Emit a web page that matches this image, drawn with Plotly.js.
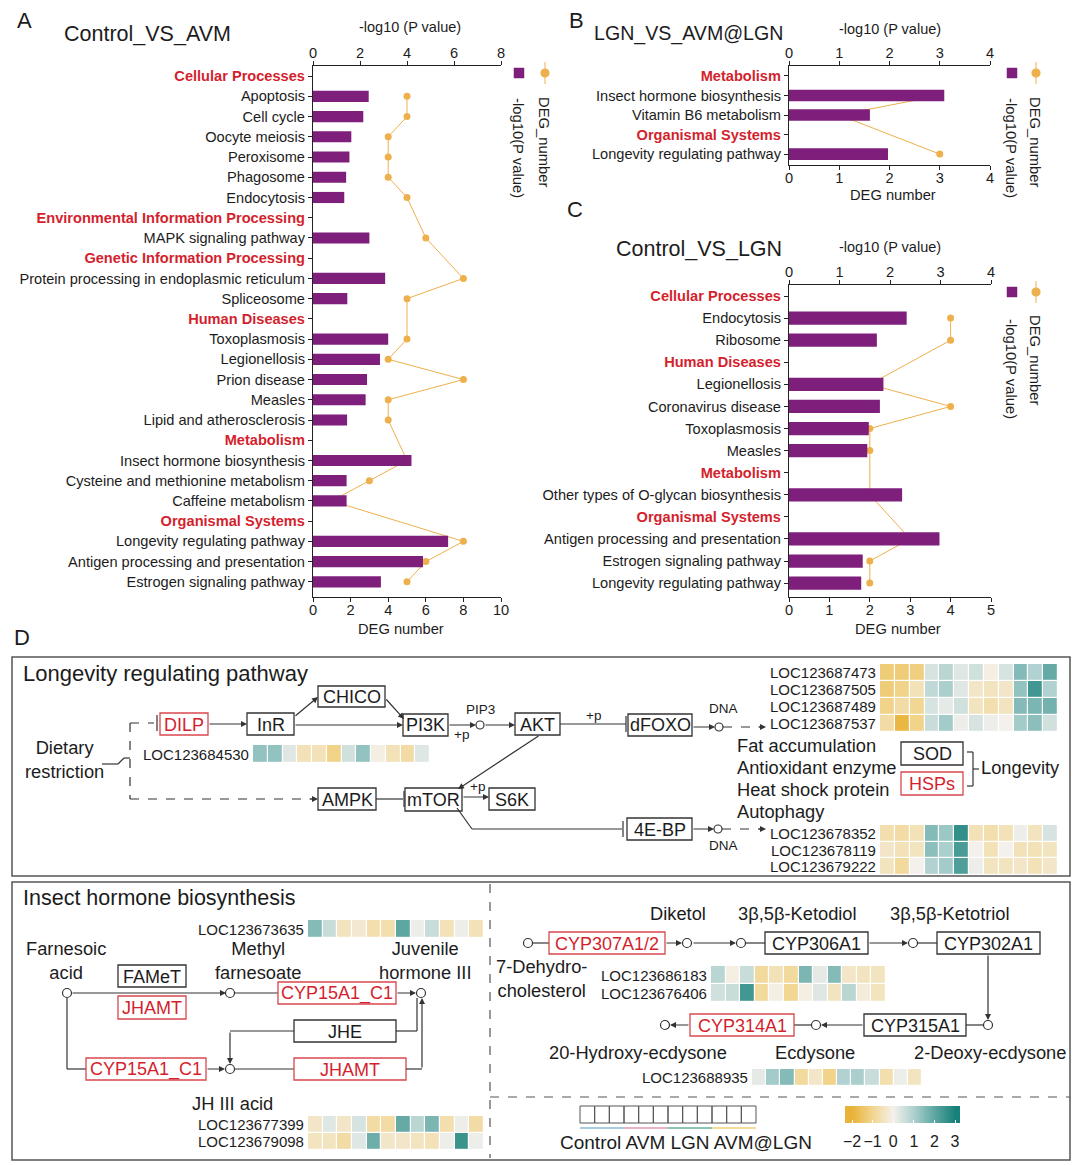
<!DOCTYPE html>
<html>
<head>
<meta charset="utf-8">
<script src="https://cdn.plot.ly/plotly-3.0.1.min.js"></script>
<style>html,body{margin:0;padding:0;background:#fff;}#plot{width:1080px;height:1165px;}</style>
</head>
<body>
<div id="plot"></div>
<script>
// ---------------- DATA ----------------
const headerCats = ['Cellular Processes','Environmental Information Processing','Genetic Information Processing','Human Diseases','Metabolism','Organismal Systems'];

const catsA = ['Cellular Processes','Apoptosis','Cell cycle','Oocyte meiosis','Peroxisome','Phagosome','Endocytosis',
  'Environmental Information Processing','MAPK signaling pathway','Genetic Information Processing',
  'Protein processing in endoplasmic reticulum','Spliceosome','Human Diseases','Toxoplasmosis','Legionellosis',
  'Prion disease','Measles','Lipid and atherosclerosis','Metabolism','Insect hormone biosynthesis',
  'Cysteine and methionine metabolism','Caffeine metabolism','Organismal Systems','Longevity regulating pathway',
  'Antigen processing and presentation','Estrogen signaling pathway'];
const logpA = [null,2.37,2.14,1.63,1.55,1.41,1.33,null,2.40,null,3.07,1.46,null,3.20,2.85,2.30,2.24,1.45,null,4.19,1.43,1.43,null,5.75,4.68,2.89];
const degA  = [null,5,5,4,4,4,5,null,6,null,8,5,null,5,4,8,4,4,null,5,3,1,null,8,6,5];

const catsB = ['Metabolism','Insect hormone biosynthesis','Vitamin B6 metabolism','Organismal Systems','Longevity regulating pathway'];
const logpB = [null,3.09,1.61,null,1.97];
const degB  = [null,3,1,null,3];

const catsC = ['Cellular Processes','Endocytosis','Ribosome','Human Diseases','Legionellosis','Coronavirus disease',
  'Toxoplasmosis','Measles','Metabolism','Other types of O-glycan biosynthesis','Organismal Systems',
  'Antigen processing and presentation','Estrogen signaling pathway','Longevity regulating pathway'];
const logpC = [null,2.33,1.74,null,1.87,1.80,1.58,1.55,null,2.24,null,2.98,1.46,1.43];
const degC  = [null,4,4,null,2,4,2,2,null,2,null,3,2,2];

// heatmap samples (Control x3, AVM x3, LGN x3, AVM@LGN x3)
const samples = ['C1','C2','C3','A1','A2','A3','L1','L2','L3','AL1','AL2','AL3'];

const genesFoxo = ['LOC123687473','LOC123687505','LOC123687489','LOC123687537'];
const zFoxo = [
  [-1.3,-1.3,-1.2, 0.4, 0.8, 0.3, 0.5,-0.1, 0.4, 1.5, 0.9, 1.9],
  [-1.3,-1.1,-0.6, 0.7, 1.0, 0.3,-0.4,-0.5,-0.4, 1.3, 2.4, 0.9],
  [-1.1,-0.8,-1.0, 0.4, 0.2, 0.5,-0.5,-0.7,-0.5, 1.5, 1.6, 1.7],
  [-0.8,-1.9,-1.1, 0.6, 1.1, 0.1, 0.4, 0.1, 0.0, 1.1, 1.4, 0.5]];
const genes4EBP = ['LOC123678352','LOC123678119','LOC123679222'];
const z4EBP = [
  [-0.7,-0.8,-0.6, 1.5, 1.2, 2.6,-0.6,-0.7,-0.6, 0.1,-0.5, 0.4],
  [-0.4,-0.6,-0.5, 1.4, 1.0, 2.3, 0.0,-0.6, 0.0,-0.6,-0.6,-0.5],
  [-0.5,-0.9, 0.0, 0.9, 1.1, 2.2, 0.1,-0.5,-0.5,-0.4,-0.6,-0.4]];
const genesDilp = ['LOC123684530'];
const zDilp = [[1.3, 1.3, 0.3,-0.6,-0.6,-1.1, 0.5, 1.3,-0.1,-0.6,-0.8, 0.3]];
const genesJH1 = ['LOC123673635'];
const zJH1 = [[1.5, 0.6,-0.5,-0.3,-0.7,-0.7, 2.0, 0.1, 0.6,-0.6, 0.1,-0.6]];
const genesJH2 = ['LOC123677399','LOC123679098'];
const zJH2 = [
  [-0.4, 0.3,-0.4, 0.4,-0.8,-0.8, 1.9, 0.8, 1.6,-0.7, 0.1,-0.8],
  [-0.5,-0.5,-0.8, 0.3, 1.8,-0.4,-0.4,-0.5,-0.6, 0.1, 2.5, 0.1]];
const genesEcd1 = ['LOC123686183','LOC123676406'];
const zEcd1 = [
  [0.8,-0.1, 0.6,-0.9,-0.6,-0.9, 1.6, 0.2, 1.5,-0.4,-0.5,-0.5],
  [0.5, 0.6, 2.4,-0.9,-0.1,-1.0,-0.1, 0.3,-0.5, 0.8,-0.2,-0.5]];
const genesEcd2 = ['LOC123688935'];
const zEcd2 = [[0.2, 1.1, 1.5,-0.9,-0.4,-1.1, 0.9, 1.0, 0.6,-0.7, 0.1,-0.5]];
const scaleVals = [-2,-1,0,1,2,3];
const scaleLabels = ['\u22122','\u22121','0','1','2','3'];
const groupNames = ['Control','AVM','LGN','AVM@LGN'];
const groupColors = ['#A9CCE0','#E8B4C2','#8CC6B3','#F2DC97'];

// ---------------- STYLE / HELPERS ----------------
const W = 1080, H = 1165;
const PX = x => x / W, PY = y => 1 - y / H;
const PURPLE = '#7E1F7C', ORANGE = '#EEB04C', RED = '#D41F2E', REDBOX = '#D9474F', INK = '#1c1c1c', LN = '#333';
const FONT = 'Liberation Sans, Arial, sans-serif';
const CS = [[0,'#E9B33A'],[0.2,'#F2D693'],[0.4,'#F4F1EC'],[0.6,'#AACFCD'],[0.8,'#5EA6A2'],[1,'#17807A']];
const BF = 18;   // box label size
const DF = 18.3; // diagram text size

const shapes = [], annotations = [];
function txt(x, y, text, size, color, xa, extra) {
  annotations.push(Object.assign({xref:'paper', yref:'paper', x:PX(x), y:PY(y), text:text, showarrow:false,
    xanchor:xa||'center', yanchor:'middle', font:{size:size, color:color||INK, family:FONT}}, extra||{}));
}
function seg(x0,y0,x1,y1,dash,color,w) {
  shapes.push({type:'line', xref:'paper', yref:'paper', x0:PX(x0), y0:PY(y0), x1:PX(x1), y1:PY(y1),
    line:{color:color||LN, width:w||1.2, dash:dash||'solid'}});
}
function rectS(x0,y0,x1,y1,color,fill,w,dash) {
  shapes.push({type:'rect', xref:'paper', yref:'paper', x0:PX(x0), x1:PX(x1), y0:PY(y1), y1:PY(y0),
    line:{color:color, width:w||1.3, dash:dash||'solid'}, fillcolor:fill||'rgba(0,0,0,0)'});
}
function box(x0,y0,x1,y1,label,red) {
  rectS(x0,y0,x1,y1, red?REDBOX:LN, '#fff', 1.3);
  txt((x0+x1)/2,(y0+y1)/2+0.5,label,BF,red?RED:INK);
}
function circ(x,y,r,fill,color) {
  r = r||4;
  shapes.push({type:'circle', xref:'paper', yref:'paper', x0:PX(x-r), x1:PX(x+r), y0:PY(y+r), y1:PY(y-r),
    line:{color:color||LN, width:1.2}, fillcolor:fill||'#fff'});
}
function arr(x0,y0,x1,y1) {
  annotations.push({xref:'paper', yref:'paper', x:PX(x1), y:PY(y1), ax:x0-x1, ay:y0-y1, axref:'pixel', ayref:'pixel',
    text:'', showarrow:true, arrowhead:2, arrowsize:1, arrowwidth:1.2, arrowcolor:LN, standoff:0, startstandoff:0});
}
function bar(x,y0,y1){ seg(x,y0,x,y1); }
const fmt = c => headerCats.includes(c) ? '<b><span style="color:'+RED+'">'+c+'</span></b>' : c;
const idx = a => a.map((_,i)=>i);

// ---------------- TRACES: panels A, B, C ----------------
const data = [];
function panel(cats, logp, deg, xb, xt, ya, bw) {
  data.push({type:'bar', orientation:'h', x:logp, y:idx(cats), xaxis:xt, yaxis:ya, width:bw,
    marker:{color:PURPLE}, hoverinfo:'skip'});
  data.push({type:'scatter', mode:'lines+markers', x:deg, y:idx(cats), xaxis:xb, yaxis:ya, connectgaps:true,
    line:{color:ORANGE, width:1}, marker:{color:ORANGE, size:7}, hoverinfo:'skip'});
}
panel(catsA, logpA, degA, 'x', 'x2', 'y', 0.55);
panel(catsB, logpB, degB, 'x3', 'x4', 'y2', 0.6);
panel(catsC, logpC, degC, 'x5', 'x6', 'y3', 0.6);

// ---------------- TRACES: heatmaps ----------------
const hmAxes = {};
function hm(genes, z, xa, ya, x0, x1, y0, y1) {
  data.push({type:'heatmap', x:samples, y:genes, z:z, xaxis:xa, yaxis:ya, colorscale:CS, zmin:-2, zmax:3,
    showscale:false, xgap:1.2, ygap:1.2, hoverinfo:'skip'});
  const xn = 'xaxis' + xa.slice(1), yn = 'yaxis' + ya.slice(1);
  hmAxes[xn] = {domain:[PX(x0),PX(x1)], anchor:ya, visible:false, fixedrange:true};
  hmAxes[yn] = {domain:[PY(y1),PY(y0)], anchor:xa, type:'category', autorange:'reversed', visible:false, fixedrange:true};
  // gene labels to the left of the rows
  const h = (y1 - y0) / genes.length;
  genes.forEach((g, i) => txt(x0 - 2, y0 + (i + 0.5) * h, g, 15, INK, 'right'));
}
hm(genesFoxo, zFoxo, 'x7', 'y4', 880, 1058, 664, 732);
hm(genes4EBP, z4EBP, 'x8', 'y5', 880, 1058, 825, 875);
hm(genesDilp, zDilp, 'x9', 'y6', 253, 430, 745, 763);
hm(genesJH1, zJH1, 'x10', 'y7', 308, 484, 920, 938);
hm(genesJH2, zJH2, 'x11', 'y8', 308, 484, 1116, 1150);
hm(genesEcd1, zEcd1, 'x12', 'y9', 711, 886, 966, 1002);
hm(genesEcd2, zEcd2, 'x13', 'y10', 752, 922, 1069, 1086);
// colour key
data.push({type:'heatmap', x:[-2.34].concat(scaleVals, [3.24]), y:['k'], z:[[-2].concat(scaleVals,[3])],
  xaxis:'x14', yaxis:'y11', colorscale:CS, zmin:-2, zmax:3, zsmooth:'best', showscale:false, hoverinfo:'skip'});

// ---------------- AXES ----------------
const tickF = {size:14.6, color:INK, family:FONT};
function xAx(x0,x1,range,dtick,anchor,side,overlay) {
  const a = {range:range, dtick:dtick, tick0:0, anchor:anchor, side:side, showline:true, linecolor:'#222', linewidth:1.1,
    ticks:'outside', ticklen:4, tickcolor:'#222', tickfont:tickF, showgrid:false, zeroline:false, fixedrange:true,
    ticklabelstandoff: side === 'top' ? -3 : -5};
  if (overlay) a.overlaying = overlay; else a.domain = [PX(x0), PX(x1)];
  return a;
}
function yAx(y0,y1,cats,range,anchor) {
  return {domain:[PY(y1), PY(y0)], anchor:anchor, range:range, tickvals:idx(cats), ticktext:cats.map(fmt), showline:true,
    linecolor:'#222', linewidth:1.1, ticks:'outside', ticklen:4, tickcolor:'#222', tickfont:tickF,
    showgrid:false, zeroline:false, fixedrange:true};
}

const layout = Object.assign({
  width:W, height:H, margin:{l:0,r:0,t:0,b:0}, paper_bgcolor:'#fff', plot_bgcolor:'rgba(0,0,0,0)',
  showlegend:false, hovermode:false, font:{family:FONT, color:INK},
  xaxis:  xAx(313,501,[0,10],2,'y','bottom'),
  xaxis2: xAx(0,0,[0,8],2,'y','top','x'),
  yaxis:  yAx(66,597,catsA,[25.75,-0.5],'x'),
  xaxis3: xAx(789,990,[0,4],1,'y2','bottom'),
  xaxis4: xAx(0,0,[0,4],1,'y2','top','x3'),
  yaxis2: yAx(66,165,catsB,[4.56,-0.51],'x3'),
  xaxis5: xAx(789,991,[0,5],1,'y3','bottom'),
  xaxis6: xAx(0,0,[0,4],1,'y3','top','x5'),
  yaxis3: yAx(285,597,catsC,[13.63,-0.5],'x5'),
  xaxis14: {domain:[PX(845),PX(960)], range:[-2.34,3.24], anchor:'y11', tickvals:scaleVals, ticktext:scaleLabels,
    ticks:'inside', ticklen:3, tickcolor:'#fff', showline:false, showgrid:false, zeroline:false, ticklabelstandoff:7,
    tickfont:{size:16, color:INK, family:FONT}, fixedrange:true},
  yaxis11: {domain:[PY(1123),PY(1106)], anchor:'x14', visible:false, fixedrange:true},
  shapes:shapes, annotations:annotations
}, hmAxes);

// ---------------- PANEL TEXT (A, B, C) ----------------
txt(24,20,'A',22,INK); txt(62,34,'Control_VS_AVM',21.5,INK,'left');
txt(410,27,'-log10 (P value)',14.5,INK); txt(401,629,'DEG number',14.7,INK);
txt(576,20,'B',22,INK); txt(592,33,'LGN_VS_AVM@LGN',19.6,INK,'left');
txt(890,29,'-log10 (P value)',14.5,INK); txt(893,195,'DEG number',14.7,INK);
txt(575,210,'C',22,INK); txt(614,249,'Control_VS_LGN',21.5,INK,'left');
txt(890,247,'-log10 (P value)',14.5,INK); txt(898,629,'DEG number',14.7,INK);

function legend(xs, xd, y, ty1, ty2) {
  rectS(xs-5,y-5,xs+5,y+5,PURPLE,PURPLE,0.5);
  seg(xd,y-11,xd,y+11,'solid',ORANGE,1);
  circ(xd,y,4,ORANGE,ORANGE);
  txt(xs-1,ty1,'-log10(P value)',14.8,INK,'center',{textangle:90});
  txt(xd-1,ty2,'DEG_number',14.8,INK,'center',{textangle:90});
}
legend(519,545,73,148,142);
legend(1012,1036,73,148,142);
legend(1012,1036,292,369,360);

// ---------------- PANEL D ----------------
txt(22,637,'D',22,INK);
rectS(12,657,1070,876,'#555','rgba(0,0,0,0)',1.5);
rectS(12,882,1070,1160,'#555','rgba(0,0,0,0)',1.5);
seg(490,884,490,1158,'dash','#555',1.2);
seg(490,1097,1070,1097,'dash','#555',1.2);

// Longevity regulating pathway
txt(21,673,'Longevity regulating pathway',22,INK,'left');
txt(64,759,'Dietary<br>restriction',DF,INK);
seg(102,764,118,764); seg(118,764,124,758); seg(124,758,130,758);
seg(130,723,154,723,'dash'); bar(157,715,731);
seg(130,723,130,799,'dash'); seg(130,799,312,799,'dash'); arr(308,799,318,799);
box(160,713,208,735,'DILP',true);
box(247,713,294,735,'InR');
box(318,686,385,707,'CHICO');
box(403,714,448,736,'PI3K');
box(515,713,560,735,'AKT');
box(628,714,692,736,'dFOXO');
box(318,788,376,810,'AMPK');
box(405,788,462,811,'mTOR');
box(489,788,535,810,'S6K');
box(627,818,692,840,'4E-BP');
box(901,742,963,765,'SOD');
box(901,772,963,795,'HSPs',true);
arr(208,724,247,724);
arr(294,717,318,697);
arr(385,698,404,719);
arr(294,725,403,725);
arr(448,725,476,725); circ(480,725,4); txt(480,709,'PIP3',13.5,INK);
arr(484,725,515,725);
seg(560,724,626,724); bar(626,716,732); txt(593,715,'+p',13.5,INK);
arr(692,727,715,727); circ(719,727,4); txt(723,708,'DNA',13.5,INK);
seg(723,727,760,727,'dash'); arr(757,727,766,727);
arr(540,735,458,789); txt(461,734,'+p',13.5,INK);
seg(376,799,403,799); bar(404,791,807);
arr(462,797,489,797); txt(477,786,'+p',13.5,INK);
seg(457,808,472,829); seg(472,829,622,829); bar(623,821,837);
arr(692,829,714,829); circ(718,829,4); txt(723,845,'DNA',13.5,INK);
seg(722,829,760,829,'dash'); arr(757,829,766,829);
txt(735,745,'Fat accumulation',DF,INK,'left');
txt(735,767,'Antioxidant enzyme',DF,INK,'left');
txt(735,789,'Heat shock protein',DF,INK,'left');
txt(735,811,'Autophagy',DF,INK,'left');
seg(967,752,973,752); seg(973,752,973,786); seg(967,786,973,786); seg(973,769,979,769);
txt(979,767,'Longevity',DF,INK,'left');

// Insect hormone biosynthesis (left)
txt(21,898,'Insect hormone biosynthesis',21.5,INK,'left');
txt(66,960,'Farnesoic<br>acid',DF,INK);
txt(258,960,'Methyl<br>farnesoate',DF,INK);
txt(425,960,'Juvenile<br>hormone III',DF,INK);
arr(71,993,226,993); circ(67,993,4.5);
box(118,965,186,987,'FAMeT');
box(118,996,186,1019,'JHAMT',true);
circ(230,993,4.5);
seg(234,993,278,993);
box(278,982,396,1004,'CYP15A1_C1',true);
arr(396,993,416,993); circ(421,993,4.5);
seg(67,998,67,1069); seg(67,1069,86,1069);
box(86,1058,206,1080,'CYP15A1_C1',true);
arr(206,1069,225,1069); circ(230,1069,4.5);
seg(235,1069,294,1069);
box(294,1058,406,1080,'JHAMT',true);
seg(406,1069,422,1069); arr(422,1069,422,998);
box(294,1020,396,1042,'JHE');
seg(396,1031,417,1031); seg(417,1031,417,998);
seg(294,1031,230,1031); arr(230,1031,230,1064);
txt(232,1103,'JH III acid',DF,INK);

// Ecdysone pathway (right)
txt(678,913,'Diketol',DF,INK);
txt(797,913,'3\u03b2,5\u03b2-Ketodiol',DF,INK);
txt(950,913,'3\u03b2,5\u03b2-Ketotriol',DF,INK);
circ(528,943,4.5); seg(532,943,549,943);
box(549,932,665,954,'CYP307A1/2',true);
arr(665,943,682,943); circ(687,943,4.5);
arr(692,943,736,943); circ(741,943,4.5);
seg(746,943,765,943);
box(765,932,868,954,'CYP306A1');
arr(868,943,908,943); circ(913,943,4.5);
seg(918,943,937,943);
box(937,932,1040,954,'CYP302A1');
arr(988,954,988,1020); circ(988,1025,4.5);
txt(541,978,'7-Dehydro-<br>cholesterol',DF,INK);
seg(983,1025,966,1025);
box(864,1014,966,1036,'CYP315A1');
arr(864,1025,821,1025); circ(816,1025,4.5);
seg(811,1025,794,1025);
box(690,1014,794,1036,'CYP314A1',true);
arr(690,1025,670,1025); circ(665,1025,4.5);
txt(638,1052,'20-Hydroxy-ecdysone',DF,INK);
txt(815,1052,'Ecdysone',DF,INK);
txt(990,1052,'2-Deoxy-ecdysone',DF,INK);

// sample legend
for (let i = 0; i < samples.length; i++) {
  const w = (756-580)/samples.length;
  rectS(580+i*w,1106,580+(i+1)*w,1123,'#555','rgba(0,0,0,0)',1);
}
for (let g = 0; g < groupNames.length; g++) {
  const w = (756-580)/groupNames.length;
  seg(580+g*w,1128,580+(g+1)*w,1128,'solid',groupColors[g],2);
}
txt(686,1142,groupNames.join(' '),19,INK);

Plotly.newPlot('plot', data, layout, {staticPlot:true});
</script>
</body>
</html>
